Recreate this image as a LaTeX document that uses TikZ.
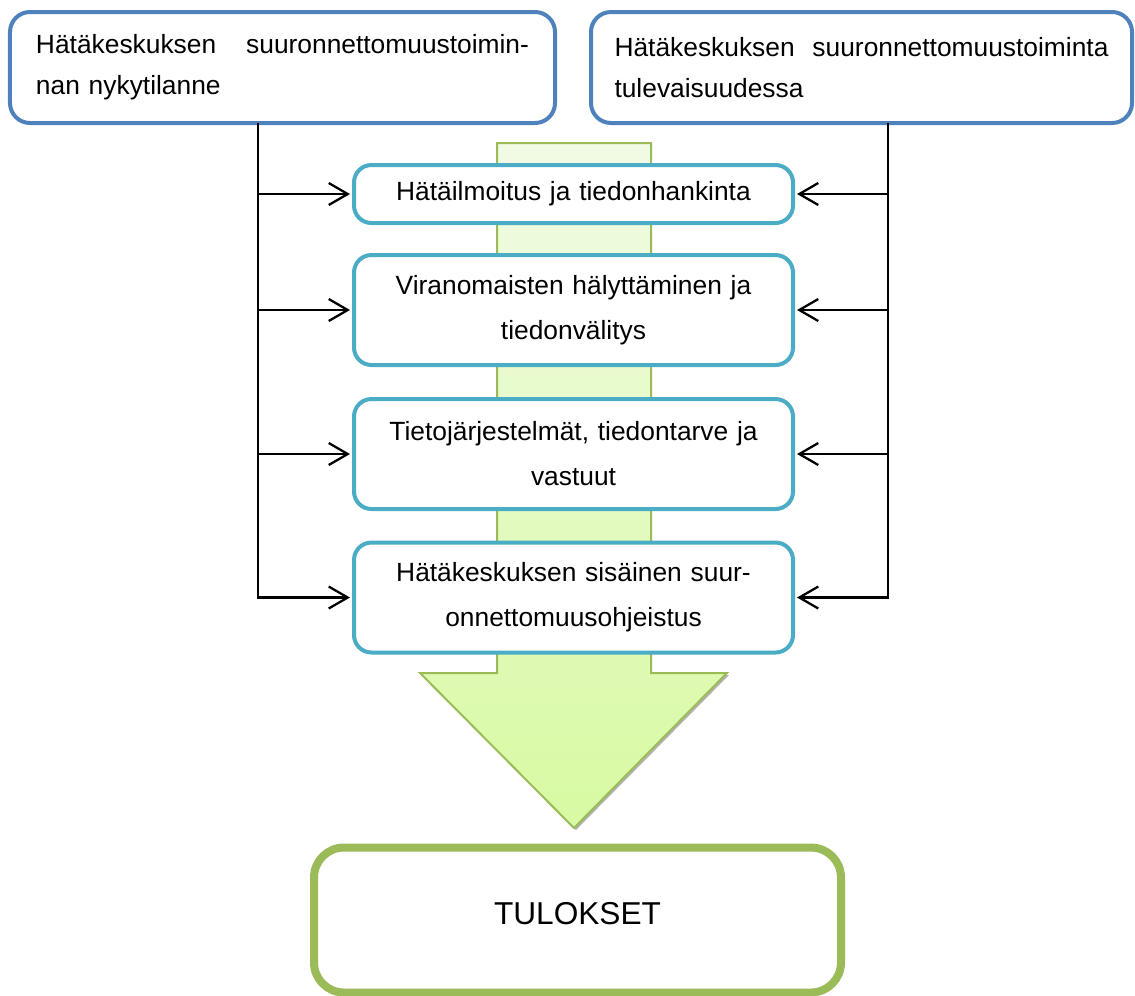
\documentclass[tikz,border=0pt]{standalone}
\usepackage{fontspec}
\setmainfont{Liberation Sans}
\usetikzlibrary{arrows.meta}
\definecolor{frameblue}{RGB}{79,129,189}
\definecolor{stepteal}{RGB}{75,172,198}
\definecolor{resgreen}{RGB}{155,187,89}
\definecolor{flowtop}{RGB}{241,251,228}
\definecolor{flowbot}{RGB}{216,250,162}
\tikzset{>={Straight Barb[length=3.8mm,width=4.4mm]}}
\tikzstyle{source}=[draw=frameblue,line width=0.8mm,rounded corners=4mm,fill=white,minimum height=22.2mm,align=left,font=\fontsize{15}{23.3}\selectfont]
\tikzstyle{phase}=[draw=stepteal,line width=0.8mm,rounded corners=3.5mm,fill=white,minimum width=87.8mm,text width=80mm,align=center,font=\fontsize{15}{25.6}\selectfont]
\tikzstyle{feed}=[->,line width=1.3pt,shorten >=0.4mm]

\begin{document}
\begin{tikzpicture}[x=0.2mm,y=-0.2mm]
  \useasboundingbox (0,0) rectangle (1135,995);

  % big flow arrow behind the phases
  \fill[gray!60] (422,675) -- (576,830) -- (729,675) -- cycle;
  \shade[top color=flowtop,bottom color=flowbot,draw=resgreen,line width=0.4mm]
    (497,143) -- (651,143) -- (651,673) -- (727,673) -- (574,828)
    -- (420,673) -- (497,673) -- cycle;

  % phases
  \node[phase,minimum height=11.6mm] (ph1) at (573.5,194) {Hätäilmoitus ja tiedonhankinta};
  \node[phase,minimum height=22mm] (ph2) at (573.5,310) {Viranomaisten hälyttäminen ja\\tiedonvälitys};
  \node[phase,minimum height=22mm] (ph3) at (573.5,454) {Tietojärjestelmät, tiedontarve ja\\vastuut};
  \node[phase,minimum height=22mm] (ph4) at (573.5,597.5) {Hätäkeskuksen sisäinen suur-\\onnettomuusohjeistus};

  % sources
  \node[source,minimum width=109mm,text width=98.6mm] (now) at (282.5,67.5)
    {Hätäkeskuksen\hfill suuronnettomuustoimin-\\nan nykytilanne};
  \node[source,minimum width=108.2mm,text width=98.8mm] (future) at (861.5,67.5)
    {Hätäkeskuksen\hfill suuronnettomuustoiminta\\tulevaisuudessa};

  \coordinate (lx) at (258,123);
  \coordinate (rx) at (888,123);
  \foreach \p in {ph1,ph2,ph3,ph4}{
    \draw[feed] (lx) |- (\p.west);
    \draw[feed] (rx) |- (\p.east);
  }

  % result
  \node[draw=resgreen,line width=1.6mm,rounded corners=6mm,fill=white,
    minimum width=105.4mm,minimum height=29mm,font=\fontsize{18}{22}\selectfont]
    (result) at (577.5,920) {\raisebox{2.6mm}{TULOKSET}};

\end{tikzpicture}
\end{document}
